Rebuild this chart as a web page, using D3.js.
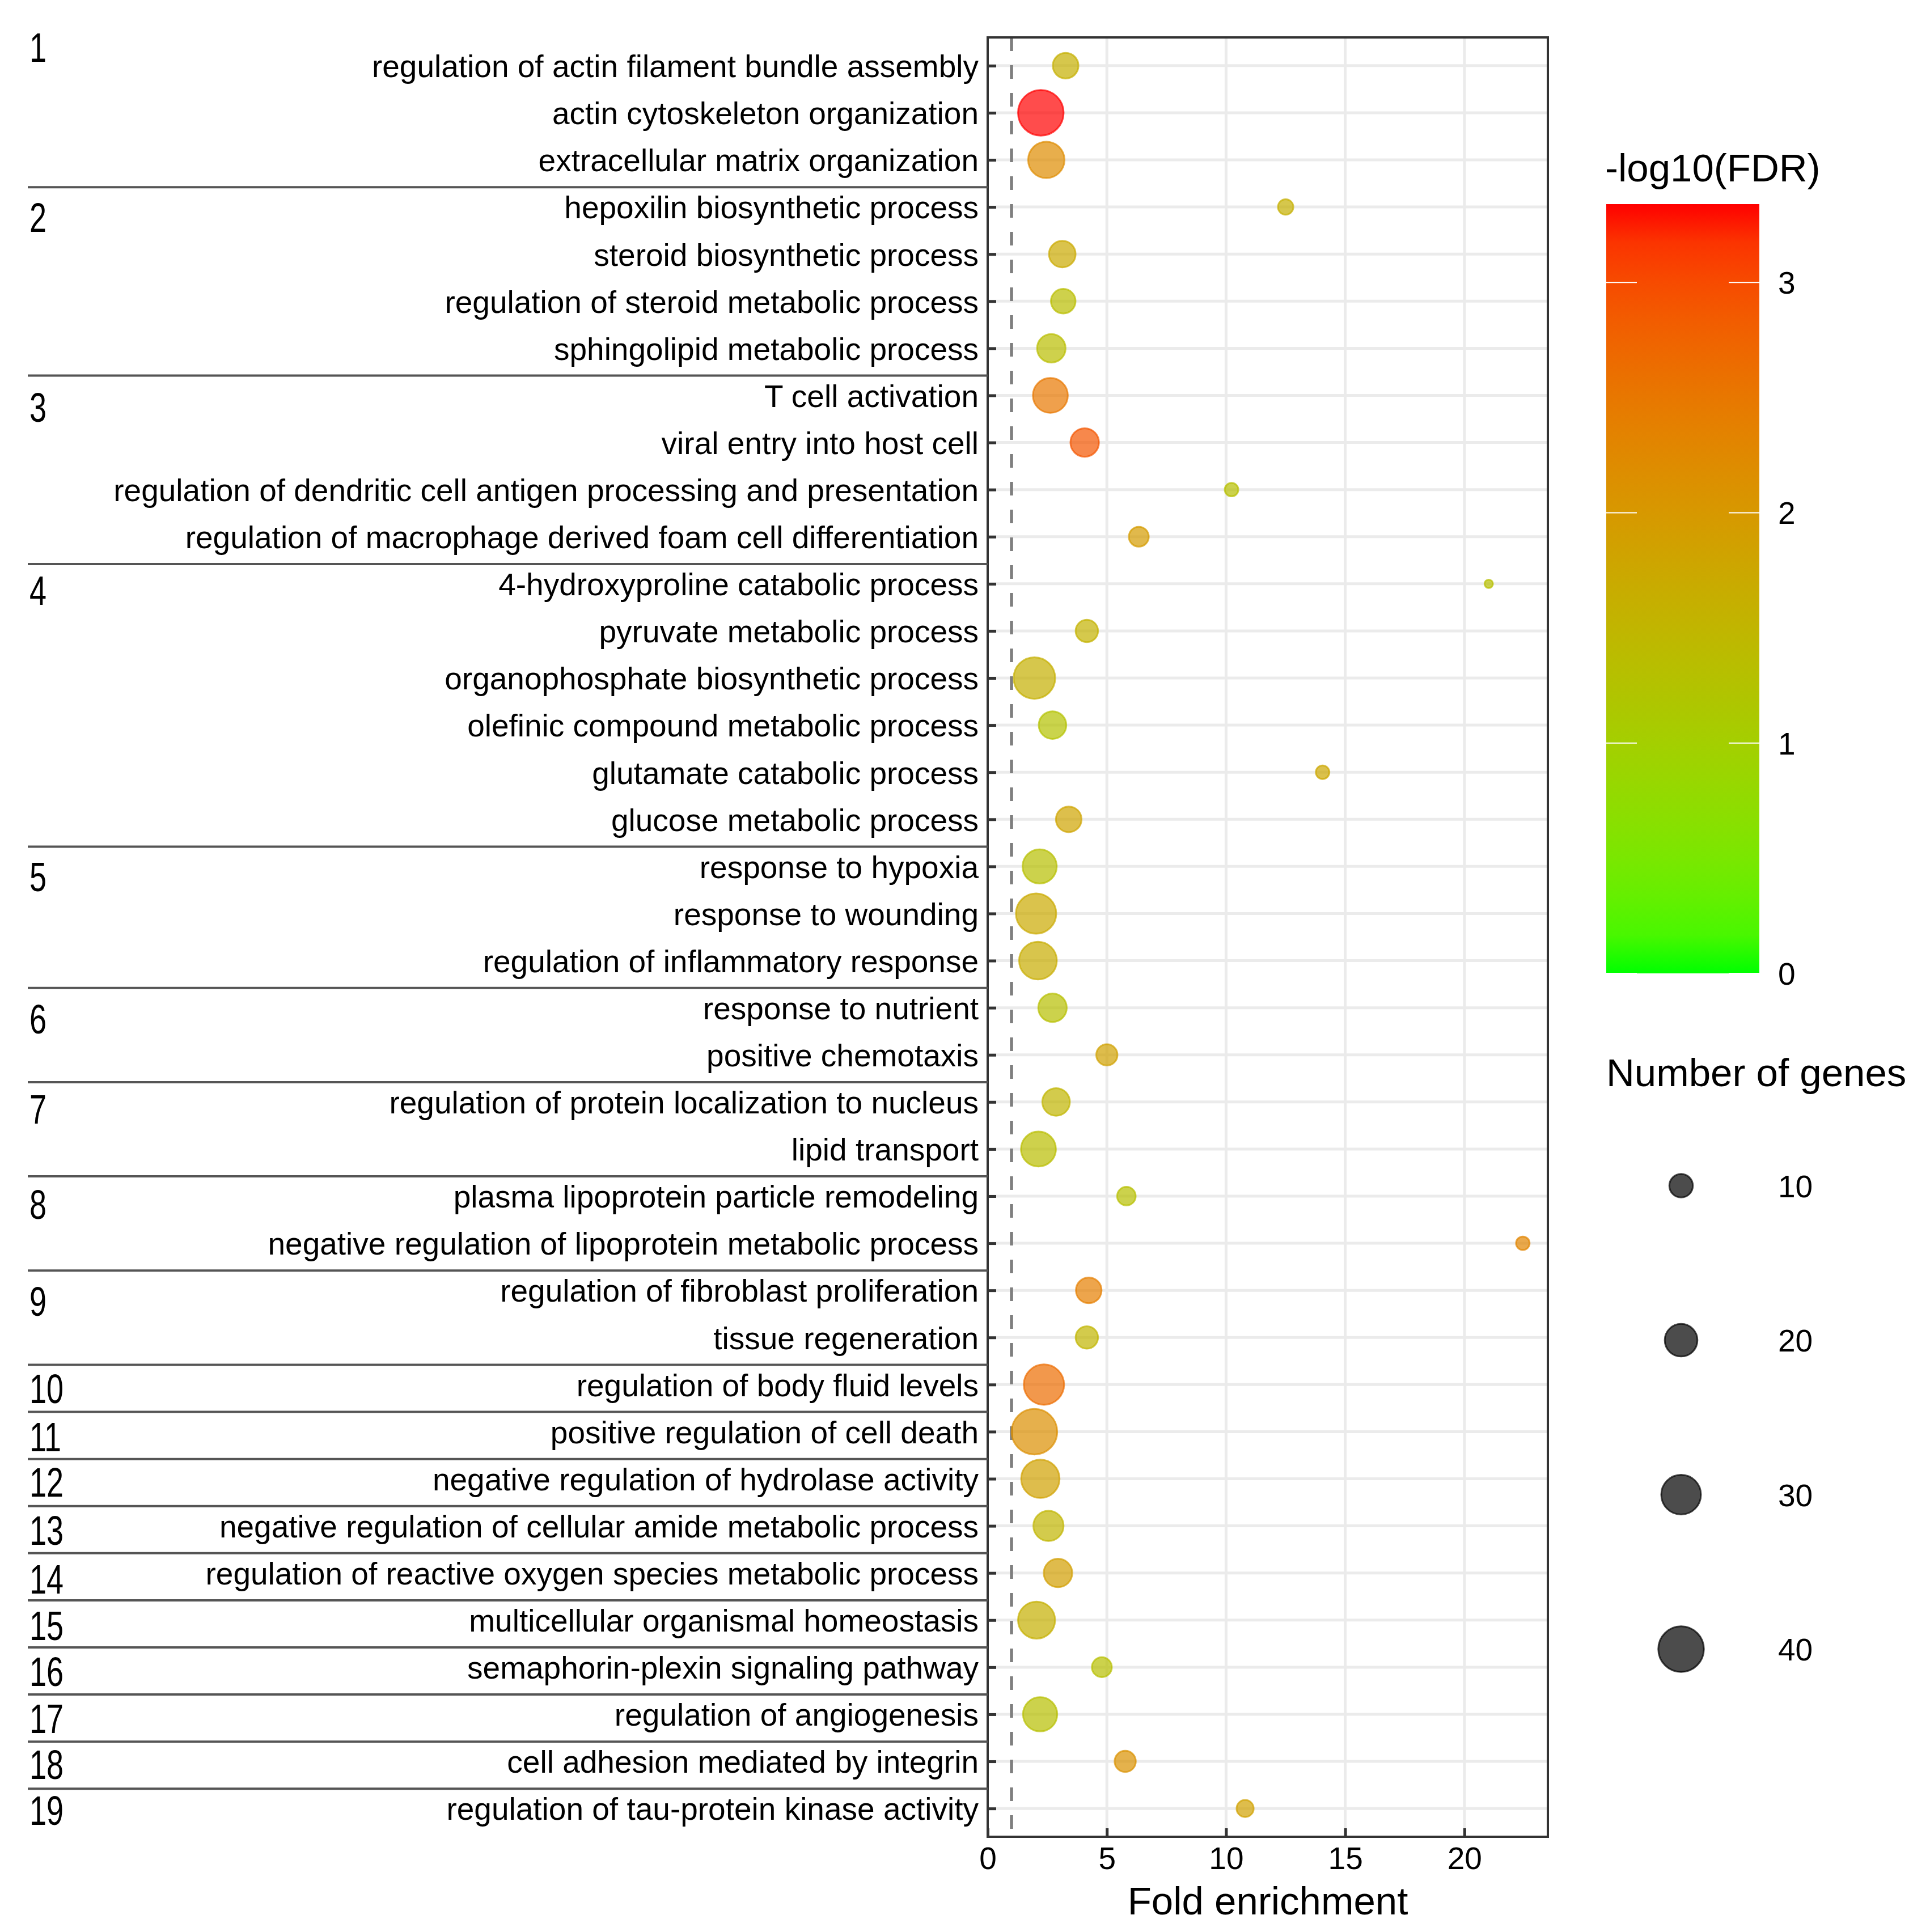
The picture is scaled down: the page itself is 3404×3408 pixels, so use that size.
<!DOCTYPE html>
<html>
<head>
<meta charset="utf-8">
<script src="https://cdn.jsdelivr.net/npm/d3@7"></script>
<style>
  html, body { margin: 0; padding: 0; background: #fff; }
  text { font-family: "Liberation Sans", Arial, sans-serif; fill: #000; }
</style>
</head>
<body>
<script>
// GO terms, top to bottom
const terms = [
  "regulation of actin filament bundle assembly",
  "actin cytoskeleton organization",
  "extracellular matrix organization",
  "hepoxilin biosynthetic process",
  "steroid biosynthetic process",
  "regulation of steroid metabolic process",
  "sphingolipid metabolic process",
  "T cell activation",
  "viral entry into host cell",
  "regulation of dendritic cell antigen processing and presentation",
  "regulation of macrophage derived foam cell differentiation",
  "4-hydroxyproline catabolic process",
  "pyruvate metabolic process",
  "organophosphate biosynthetic process",
  "olefinic compound metabolic process",
  "glutamate catabolic process",
  "glucose metabolic process",
  "response to hypoxia",
  "response to wounding",
  "regulation of inflammatory response",
  "response to nutrient",
  "positive chemotaxis",
  "regulation of protein localization to nucleus",
  "lipid transport",
  "plasma lipoprotein particle remodeling",
  "negative regulation of lipoprotein metabolic process",
  "regulation of fibroblast proliferation",
  "tissue regeneration",
  "regulation of body fluid levels",
  "positive regulation of cell death",
  "negative regulation of hydrolase activity",
  "negative regulation of cellular amide metabolic process",
  "regulation of reactive oxygen species metabolic process",
  "multicellular organismal homeostasis",
  "semaphorin-plexin signaling pathway",
  "regulation of angiogenesis",
  "cell adhesion mediated by integrin",
  "regulation of tau-protein kinase activity"
];

const foldEnrichment = [3.27, 2.23, 2.46, 12.5, 3.13, 3.17, 2.67, 2.63, 4.07, 10.23,
  6.34, 21.02, 4.16, 1.96, 2.72, 14.05, 3.40, 2.18, 2.03, 2.11,
  2.72, 5.0, 2.87, 2.13, 5.82, 22.45, 4.24, 4.16, 2.36, 1.96,
  2.21, 2.55, 2.95, 2.05, 4.79, 2.2, 5.77, 10.8];

const geneCount = [12, 40, 25, 4, 13, 11, 15, 23, 15, 3,
  7, 1, 9, 33, 14, 3, 12, 22, 31, 27,
  15, 8, 14, 23, 6, 3, 12, 9, 31, 40,
  28, 17, 15, 26, 7, 22, 8, 5];

const negLog10FDR = [1.6, 3.34, 2.2, 1.6, 1.7, 1.35, 1.35, 2.5, 2.9, 1.3,
  1.95, 1.3, 1.55, 1.6, 1.25, 1.75, 1.8, 1.3, 1.7, 1.65,
  1.3, 1.85, 1.5, 1.35, 1.3, 2.3, 2.4, 1.5, 2.65, 2.15,
  1.85, 1.5, 1.9, 1.6, 1.3, 1.3, 2.1, 1.85];

// cluster sizes (consecutive terms) and where each cluster number sits, in rows
const groupSizes = [3, 4, 4, 6, 3, 2, 2, 2, 2, 1, 1, 1, 1, 1, 1, 1, 1, 1, 1];
const groupLabelNudge = [-0.40, 0.22, 0.25, 0.13, 0.21, 0.23, 0.15, 0.17, 0.23, 0.08,
  0.10, 0.07, 0.09, 0.12, 0.11, 0.08, 0.08, 0.06, 0.04];

const xTicks = [0, 5, 10, 15, 20];
const fdrTicks = [0, 1, 2, 3];
const sizeBreaks = [10, 20, 30, 40];

const W = 3404, H = 3408;
const panel = { left: 1742, right: 2730, top: 66, bottom: 3240 };
const FONT_AXIS = 55, FONT_TITLE = 69;

const data = terms.map((t, i) => ({
  term: t, fe: foldEnrichment[i], n: geneCount[i], fdr: negLog10FDR[i]
}));

const svg = d3.select("body").append("svg")
  .attr("width", W).attr("height", H)
  .style("background", "#fff");

// scales
const x = d3.scaleLinear().domain([0, 23.5]).range([panel.left, panel.right]);
const y = d3.scalePoint().domain(terms).range([panel.top, panel.bottom]).padding(0.6);
const step = y.step();
const rowY = i => y(terms[0]) + i * step; // fractional row positions

const fdrMax = d3.max(negLog10FDR);
const color = d3.scaleLinear().domain([0, fdrMax])
  .range(["#00ff00", "#ff0000"]).interpolate(d3.interpolateLab);
const r = d3.scaleSqrt().domain([0, 40]).range([0, 38.9]);
const dotR = n => r(n) + 1.3;

// grid
const grid = svg.append("g");
grid.selectAll("line.gx").data(xTicks.slice(1)).join("line")
  .attr("x1", d => x(d)).attr("x2", d => x(d))
  .attr("y1", panel.top).attr("y2", panel.bottom)
  .attr("stroke", "#ebebeb").attr("stroke-width", 5);
grid.selectAll("line.gy").data(terms).join("line")
  .attr("x1", panel.left).attr("x2", panel.right)
  .attr("y1", d => y(d)).attr("y2", d => y(d))
  .attr("stroke", "#ebebeb").attr("stroke-width", 5);

// reference line at fold enrichment = 1
svg.append("line")
  .attr("x1", x(1)).attr("x2", x(1))
  .attr("y1", panel.top).attr("y2", panel.bottom)
  .attr("stroke", "#7f7f7f").attr("stroke-width", 5.5)
  .attr("stroke-dasharray", "24,25");

// points
svg.append("g").selectAll("circle").data(data).join("circle")
  .attr("cx", d => x(d.fe)).attr("cy", d => y(d.term))
  .attr("r", d => dotR(d.n))
  .attr("fill", d => color(d.fdr)).attr("fill-opacity", 0.7)
  .attr("stroke", d => color(d.fdr)).attr("stroke-opacity", 0.7)
  .attr("stroke-width", 3);

// panel border
svg.append("rect")
  .attr("x", panel.left).attr("y", panel.top)
  .attr("width", panel.right - panel.left).attr("height", panel.bottom - panel.top)
  .attr("fill", "none").attr("stroke", "#333").attr("stroke-width", 4);

// axes (ticks drawn inward)
const xAxis = d3.axisBottom(x).tickValues(xTicks).tickSize(-15).tickPadding(18);
const gx = svg.append("g").attr("transform", `translate(0,${panel.bottom})`).call(xAxis);
gx.select(".domain").remove();
gx.selectAll(".tick line").attr("stroke", "#333").attr("stroke-width", 5);
gx.selectAll(".tick text").attr("font-size", FONT_AXIS).attr("fill", "#000")
  .attr("font-family", '"Liberation Sans", Arial, sans-serif');

const yAxis = d3.axisLeft(y).tickSize(-15).tickPadding(16);
const gy = svg.append("g").attr("transform", `translate(${panel.left},0)`).call(yAxis);
gy.select(".domain").remove();
gy.selectAll(".tick line").attr("stroke", "#333").attr("stroke-width", 5);
gy.selectAll(".tick text").attr("font-size", FONT_AXIS).attr("fill", "#000")
  .attr("dy", "0.36em")
  .attr("font-family", '"Liberation Sans", Arial, sans-serif');

svg.append("text")
  .attr("x", (panel.left + panel.right) / 2).attr("y", 3377)
  .attr("text-anchor", "middle").attr("font-size", FONT_TITLE)
  .text("Fold enrichment");

// cluster separators and numbers
const starts = [];
groupSizes.reduce((acc, s) => { starts.push(acc); return acc + s; }, 0);

svg.append("g").selectAll("line").data(starts.slice(1)).join("line")
  .attr("x1", 49).attr("x2", panel.left)
  .attr("y1", d => rowY(d - 0.5 + 0.08)).attr("y2", d => rowY(d - 0.5 + 0.08))
  .attr("stroke", "#555").attr("stroke-width", 4);

svg.append("g").selectAll("text").data(starts).join("text")
  .attr("transform", (d, i) => `translate(52,${rowY(d + groupLabelNudge[i]) + 26}) scale(0.75,1)`)
  .attr("font-size", 72)
  .text((d, i) => i + 1);

// colour legend
const leg = { x: 2833, w: 270, top: 360, bottom: 1717 };
const legY = d3.scaleLinear().domain([0, fdrMax]).range([leg.bottom, leg.top]);

svg.append("text").attr("x", 2831).attr("y", 320)
  .attr("font-size", FONT_TITLE).text("-log10(FDR)");

const grad = svg.append("defs").append("linearGradient")
  .attr("id", "fdrGrad").attr("x1", 0).attr("x2", 0).attr("y1", 1).attr("y2", 0);
grad.selectAll("stop").data(d3.range(0, 1.0001, 0.05)).join("stop")
  .attr("offset", d => d)
  .attr("stop-color", d => color(d * fdrMax));

svg.append("rect").attr("x", leg.x).attr("y", leg.top)
  .attr("width", leg.w).attr("height", leg.bottom - leg.top)
  .attr("fill", "url(#fdrGrad)");

const lt = svg.append("g").selectAll("g").data(fdrTicks).join("g");
lt.append("line").attr("x1", leg.x).attr("x2", leg.x + leg.w / 5)
  .attr("y1", d => legY(d)).attr("y2", d => legY(d))
  .attr("stroke", "#fff").attr("stroke-width", 2);
lt.append("line").attr("x1", leg.x + leg.w * 4 / 5).attr("x2", leg.x + leg.w)
  .attr("y1", d => legY(d)).attr("y2", d => legY(d))
  .attr("stroke", "#fff").attr("stroke-width", 2);
lt.append("text").attr("x", 3136).attr("y", d => legY(d) + 20)
  .attr("font-size", FONT_AXIS).text(d => d);

// size legend
svg.append("text").attr("x", 2833).attr("y", 1916)
  .attr("font-size", FONT_TITLE).text("Number of genes");

const sizeY = d3.scalePoint().domain(sizeBreaks).range([2091.6, 2909]);
const sk = svg.append("g").selectAll("g").data(sizeBreaks).join("g");
sk.append("circle").attr("cx", 2965).attr("cy", d => sizeY(d))
  .attr("r", d => dotR(d))
  .attr("fill", "#000").attr("fill-opacity", 0.7)
  .attr("stroke", "#000").attr("stroke-opacity", 0.7).attr("stroke-width", 3);
sk.append("text").attr("x", 3136).attr("y", d => sizeY(d) + 20)
  .attr("font-size", FONT_AXIS).text(d => d);
</script>
</body>
</html>
